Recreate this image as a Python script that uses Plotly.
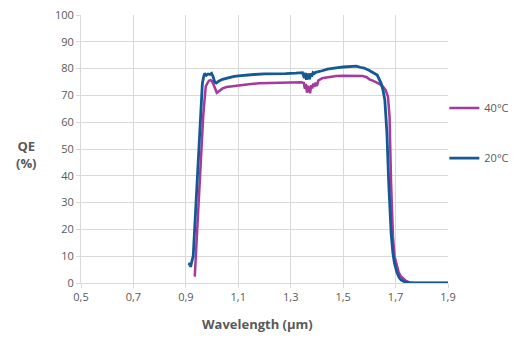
import plotly.graph_objects as go

# Quantum efficiency spectra of the InGaAs detector at two temperatures
wl_20c = [0.912, 0.915, 0.918, 0.921, 0.924, 0.928, 0.934, 0.940, 0.945, 0.950,
          0.956, 0.963, 0.968, 0.972, 0.978, 0.985, 0.992, 0.998, 1.004, 1.010,
          1.016, 1.025, 1.040, 1.060, 1.080, 1.100, 1.130, 1.160, 1.200, 1.240,
          1.280, 1.320, 1.345, 1.352, 1.356, 1.360, 1.364, 1.368, 1.372, 1.376,
          1.380, 1.385, 1.390, 1.395, 1.400, 1.410, 1.420, 1.440, 1.460, 1.480,
          1.500, 1.520, 1.535, 1.550, 1.565, 1.580, 1.600, 1.615, 1.630, 1.645,
          1.652, 1.659, 1.667, 1.674, 1.683, 1.690, 1.696, 1.705, 1.714, 1.722,
          1.735, 1.750, 1.770, 1.800, 1.850, 1.900]
qe_20c = [6.5, 7.5, 6.0, 8.0, 8.5, 10.0, 21.0, 33.6, 42.0, 55.0,
          62.0, 74.5, 77.0, 78.2, 77.5, 78.0, 77.8, 78.2, 77.0, 75.0,
          74.6, 75.3, 76.0, 76.6, 77.0, 77.3, 77.6, 77.8, 78.0, 78.0,
          78.1, 78.3, 78.5, 76.5, 78.4, 75.8, 78.0, 77.6, 76.0, 78.3,
          77.0, 78.5, 78.2, 78.6, 78.7, 78.9, 79.2, 79.8, 80.2, 80.4,
          80.6, 80.8, 81.0, 80.9, 80.5, 80.2, 79.3, 78.6, 77.6, 74.5,
          72.0, 68.3, 56.0, 37.0, 18.6, 11.0, 7.3, 4.0, 2.0, 1.1,
          0.4, 0.1, 0.0, 0.0, 0.0, 0.0]

wl_40c = [0.934, 0.937, 0.940, 0.945, 0.950, 0.956, 0.960, 0.966, 0.971, 0.976,
          0.982, 0.988, 0.994, 1.000, 1.006, 1.012, 1.018, 1.024, 1.030, 1.040,
          1.055, 1.070, 1.090, 1.110, 1.140, 1.180, 1.220, 1.260, 1.300, 1.340,
          1.350, 1.354, 1.358, 1.362, 1.366, 1.370, 1.374, 1.378, 1.382, 1.386,
          1.390, 1.395, 1.400, 1.405, 1.412, 1.420, 1.430, 1.445, 1.460, 1.474,
          1.500, 1.540, 1.575, 1.590, 1.600, 1.613, 1.626, 1.640, 1.652, 1.662,
          1.671, 1.677, 1.683, 1.690, 1.696, 1.703, 1.712, 1.720, 1.728, 1.740,
          1.753, 1.770, 1.800, 1.900]
qe_40c = [2.4, 8.0, 14.8, 24.0, 33.5, 46.0, 53.0, 62.0, 68.0, 73.3,
          74.5, 75.5, 75.7, 75.3, 74.0, 72.2, 71.0, 71.4, 72.0, 72.6,
          73.1, 73.3, 73.6, 73.9, 74.2, 74.5, 74.6, 74.6, 74.7, 74.9,
          74.6, 72.5, 74.3, 71.0, 73.6, 72.0, 70.8, 73.8, 72.6, 74.4,
          73.2, 74.8, 73.5, 75.5, 76.0, 76.4, 76.6, 76.9, 77.1, 77.2,
          77.3, 77.3, 77.2, 76.8, 76.0, 75.5, 74.9, 74.2, 73.3, 72.0,
          69.5, 62.0, 37.0, 17.3, 10.0, 7.4, 4.0, 2.5, 1.7, 0.8,
          0.2, 0.0, 0.0, 0.0]

x_ticks = [0.5, 0.7, 0.9, 1.1, 1.3, 1.5, 1.7, 1.9]
x_tick_text = ["0,5", "0,7", "0,9", "1,1", "1,3", "1,5", "1,7", "1,9"]
y_ticks = [0, 10, 20, 30, 40, 50, 60, 70, 80, 90, 100]

MAGENTA = "#a63a9c"
BLUE = "#145896"
GRID = "#d9d9d9"
TEXT = "#595959"
FONT = "Open Sans"

fig = go.Figure()
fig.add_trace(go.Scatter(x=wl_40c, y=qe_40c, mode="lines", name="40°C",
                         line=dict(color=MAGENTA, width=2.5), legend="legend",
                         showlegend=True))
fig.add_trace(go.Scatter(x=wl_20c, y=qe_20c, mode="lines", name="20°C",
                         line=dict(color=BLUE, width=2.8), legend="legend2",
                         showlegend=True))

legend_style = dict(xanchor="left", yanchor="middle", bgcolor="rgba(0,0,0,0)",
                    font=dict(family=FONT, size=11, color=TEXT))

fig.update_layout(
    width=520, height=340,
    margin=dict(l=81, r=72, t=15, b=57, autoexpand=False),
    showlegend=True,
    paper_bgcolor="white", plot_bgcolor="white",
    font=dict(family=FONT, size=11, color=TEXT),
    legend=dict(x=0.99, y=0.653, **legend_style),
    legend2=dict(x=0.99, y=0.466, **legend_style),
    xaxis=dict(range=[0.5, 1.9], tickvals=x_ticks, ticktext=x_tick_text,
               showgrid=True, gridcolor=GRID, gridwidth=1,
               showline=True, linecolor=GRID, linewidth=1,
               ticks="outside", ticklen=4, tickcolor=GRID,
               zeroline=False, tickfont=dict(size=11, color=TEXT)),
    yaxis=dict(range=[0, 100], tickvals=y_ticks,
               showgrid=True, gridcolor=GRID, gridwidth=1,
               showline=True, linecolor=GRID, linewidth=1,
               ticks="outside", ticklen=4, tickcolor=GRID,
               zeroline=False, tickfont=dict(size=11, color=TEXT)),
    annotations=[
        dict(text="<b>QE<br>(%)</b>", xref="paper", yref="paper",
             x=-0.148, y=0.48, xanchor="center", yanchor="middle",
             showarrow=False, align="center",
             font=dict(family=FONT, size=13, color=TEXT)),
        dict(text="<b>Wavelength (µm)</b>", xref="paper", yref="paper",
             x=0.48, y=-0.153, xanchor="center", yanchor="middle",
             showarrow=False,
             font=dict(family=FONT, size=13, color=TEXT)),
    ],
)

fig.write_html("out.html")
